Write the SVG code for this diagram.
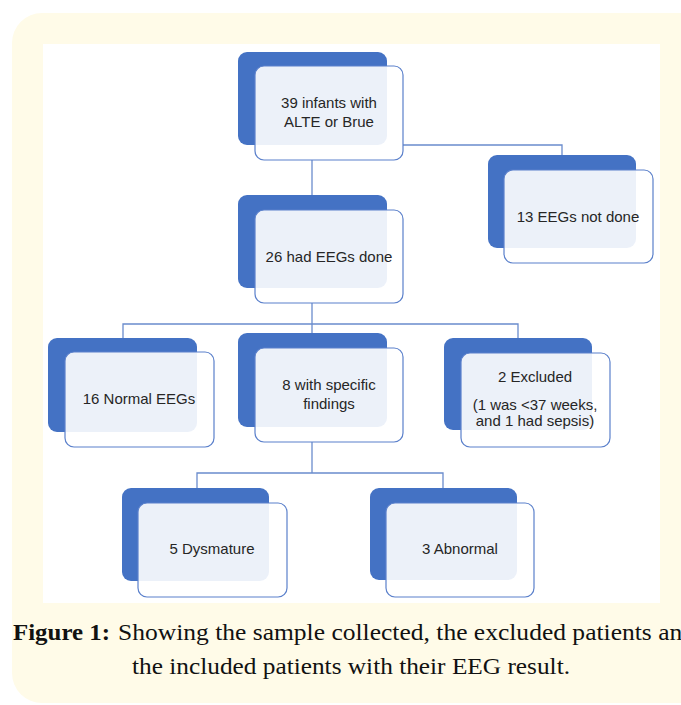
<svg xmlns="http://www.w3.org/2000/svg" width="681" height="705" viewBox="0 0 681 705">
<style>
.back{fill:#4472C4}
.front{fill:#FFFFFF;fill-opacity:0.9;stroke:#5B80CB;stroke-width:1.2}
.lbl{font-family:"Liberation Sans",Arial,sans-serif;font-size:15px;fill:#262626;text-anchor:middle}
.con{fill:none;stroke:#6A8CCD;stroke-width:1.3}
.cap{font-family:"Liberation Serif","Times New Roman",serif;font-size:23px;fill:#111}
</style>
<rect x="12" y="13" width="700" height="690" rx="30" fill="#FFFBE8"/>
<rect x="43" y="44" width="617" height="559" fill="#FFFFFF"/>
<g id="connectors">
<path class="con" d="M312,160 V195"/>
<path class="con" d="M403,145 H562 V155"/>
<path class="con" d="M312,303 V333"/>
<path class="con" d="M123,338 V324 H518 V338"/>
<path class="con" d="M312,442 V473"/>
<path class="con" d="M197,488 V473 H443 V488"/>
</g>
<g id="n39">
<rect class="back" x="238" y="52" width="149" height="93" rx="9"/>
<rect class="front" x="255" y="66" width="148" height="94" rx="9"/>
<text class="lbl" x="329" y="108">39 infants with</text>
<text class="lbl" x="329" y="127">ALTE or Brue</text>
</g>
<g id="n13">
<rect class="back" x="488" y="155" width="148" height="93" rx="9"/>
<rect class="front" x="504" y="170" width="149" height="93" rx="9"/>
<text class="lbl" x="578" y="222">13 EEGs not done</text>
</g>
<g id="n26">
<rect class="back" x="238" y="195" width="149" height="93" rx="9"/>
<rect class="front" x="255" y="210" width="148" height="93" rx="9"/>
<text class="lbl" x="329" y="262">26 had EEGs done</text>
</g>
<g id="n16">
<rect class="back" x="48" y="338" width="149" height="94" rx="9"/>
<rect class="front" x="65" y="352" width="149" height="95" rx="9"/>
<text class="lbl" x="139" y="404">16 Normal EEGs</text>
</g>
<g id="n8">
<rect class="back" x="238" y="333" width="149" height="94" rx="9"/>
<rect class="front" x="255" y="348" width="148" height="94" rx="9"/>
<text class="lbl" x="329" y="390">8 with specific</text>
<text class="lbl" x="329" y="409">findings</text>
</g>
<g id="n2">
<rect class="back" x="444" y="338" width="148" height="92" rx="9"/>
<rect class="front" x="461" y="353" width="149" height="94" rx="9"/>
<text class="lbl" x="535" y="382">2 Excluded</text>
<text class="lbl" x="535" y="410">(1 was &lt;37 weeks,</text>
<text class="lbl" x="535" y="426">and 1 had sepsis)</text>
</g>
<g id="n5">
<rect class="back" x="122" y="488" width="147" height="93" rx="9"/>
<rect class="front" x="138" y="503" width="149" height="94" rx="9"/>
<text class="lbl" x="212" y="554">5 Dysmature</text>
</g>
<g id="n3">
<rect class="back" x="370" y="488" width="147" height="92" rx="9"/>
<rect class="front" x="386" y="503" width="148" height="94" rx="9"/>
<text class="lbl" x="460" y="554">3 Abnormal</text>
</g>
<g id="caption">
<text class="cap" x="13" y="640" font-weight="bold" textLength="97" lengthAdjust="spacingAndGlyphs">Figure 1:</text>
<text class="cap" x="118" y="640" textLength="577" lengthAdjust="spacingAndGlyphs">Showing the sample collected, the excluded patients and</text>
<text class="cap" x="132" y="674" textLength="438" lengthAdjust="spacingAndGlyphs">the included patients with their EEG result.</text>
</g>
</svg>
